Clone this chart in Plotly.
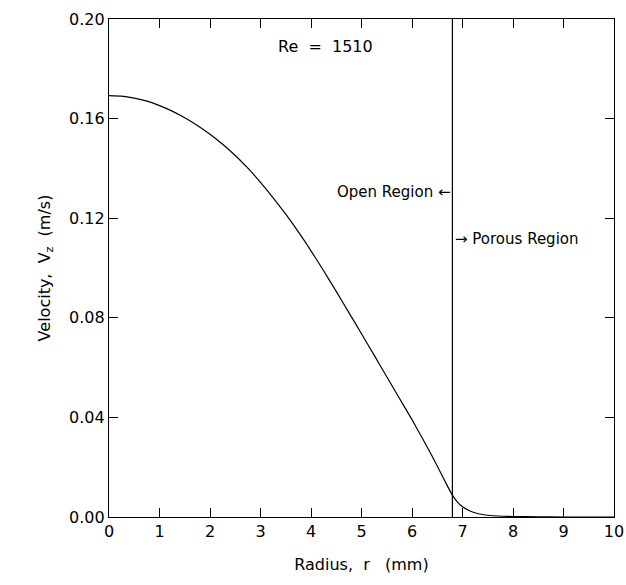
import plotly.graph_objects as go

radius_mm = [0.0, 0.25, 0.5, 0.75, 1.0, 1.25, 1.5, 1.75, 2.0, 2.25, 2.5, 2.75, 3.0, 3.25, 3.5, 3.75,
             4.0, 4.25, 4.5, 4.75, 5.0, 5.25, 5.5, 5.75, 6.0, 6.2, 6.4, 6.6, 6.7, 6.8, 6.9, 7.0,
             7.1, 7.2, 7.3, 7.4, 7.5, 7.6, 7.8, 8.0, 8.5, 9.0, 9.5, 10.0]
velocity = [0.1692, 0.1690, 0.1682, 0.1670, 0.1652, 0.1630, 0.1603, 0.1572, 0.1537, 0.1497, 0.1452,
            0.1401, 0.1344, 0.1282, 0.1216, 0.1145, 0.1069, 0.0989, 0.0906, 0.0821, 0.0736, 0.0650,
            0.0563, 0.0477, 0.0391, 0.0318, 0.0244, 0.0165, 0.0125, 0.0088, 0.0060, 0.0041, 0.0029,
            0.0020, 0.0014, 0.0010, 0.0007, 0.0005, 0.0003, 0.0002, 0.0001, 0.0000, 0.0000, 0.0000]
interface_r = 6.8
x_ticks = [0, 1, 2, 3, 4, 5, 6, 7, 8, 9, 10]
y_ticks = [0.00, 0.04, 0.08, 0.12, 0.16, 0.20]
y_tick_labels = ["0.00", "0.04", "0.08", "0.12", "0.16", "0.20"]

FONT = "DejaVu Sans"

fig = go.Figure()
fig.add_trace(go.Scatter(x=radius_mm, y=velocity, mode="lines",
                         line=dict(color="black", width=1.2, shape="spline", smoothing=0.5),
                         showlegend=False))
fig.add_trace(go.Scatter(x=[interface_r, interface_r], y=[0, 0.2], mode="lines",
                         line=dict(color="black", width=1.2), showlegend=False))

fig.add_annotation(x=4.29, y=0.1888, text="Re  =  1510", showarrow=False,
                   font=dict(family=FONT, size=16, color="black"))
fig.add_annotation(x=interface_r, y=0.1305, text="Open Region \u2190", showarrow=False,
                   xanchor="right", xshift=1,
                   font=dict(family=FONT, size=15, color="black"))
fig.add_annotation(x=interface_r, y=0.1116, text="\u2192 Porous Region", showarrow=False,
                   xanchor="left", xshift=1,
                   font=dict(family=FONT, size=15, color="black"))

axis_common = dict(showgrid=False, zeroline=False, showline=True, linecolor="black", linewidth=1.2,
                   mirror="ticks", ticks="inside", tickcolor="black", tickwidth=1.2,
                   automargin=False,
                   tickfont=dict(family=FONT, size=16, color="black"))
fig.update_xaxes(range=[0, 10], tickvals=x_ticks, ticklen=9,
                 title=dict(text="Radius,  r   (mm)", font=dict(family=FONT, size=16, color="black"),
                            standoff=18),
                 **axis_common)
fig.update_yaxes(range=[0, 0.2], tickvals=y_ticks, ticktext=y_tick_labels, ticklen=9,
                 title=dict(text="Velocity,  V<sub>z</sub>  (m/s)",
                            font=dict(family=FONT, size=16, color="black"), standoff=14),
                 **axis_common)
fig.update_layout(width=626, height=585, margin=dict(l=109, r=12, t=19, b=68),
                  plot_bgcolor="white", paper_bgcolor="white")
fig.write_html("out.html")
